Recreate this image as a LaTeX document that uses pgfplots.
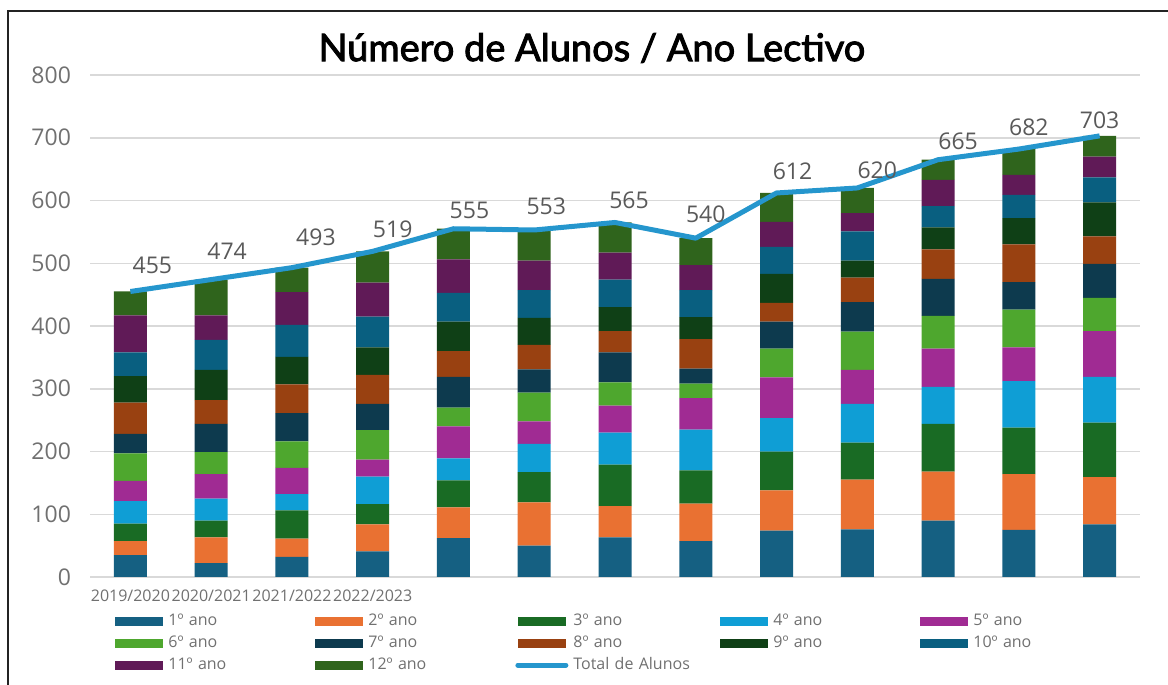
\documentclass[border=0pt]{standalone}
\usepackage{fontspec}
\setmainfont{Open Sans}
\newfontface\titlefont{Lato}[FakeBold=2.5]
\usepackage{pgfplots}
\usepackage{pgfplotstable}
\pgfplotsset{compat=1.18}
\pgfplotsset{/pgf/number format/assume math mode=true}

\definecolor{c1}{RGB}{21,96,130}
\definecolor{c2}{RGB}{233,113,50}
\definecolor{c3}{RGB}{25,107,36}
\definecolor{c4}{RGB}{15,158,213}
\definecolor{c5}{RGB}{160,43,147}
\definecolor{c6}{RGB}{78,167,46}
\definecolor{c7}{RGB}{13,58,78}
\definecolor{c8}{RGB}{153,65,17}
\definecolor{c9}{RGB}{15,64,22}
\definecolor{c10}{RGB}{9,95,128}
\definecolor{c11}{RGB}{96,26,87}
\definecolor{c12}{RGB}{47,100,28}
\definecolor{linec}{RGB}{37,150,205}
\definecolor{gridc}{RGB}{217,217,217}
\definecolor{tickc}{RGB}{112,112,112}
\definecolor{labelc}{RGB}{89,89,89}
\definecolor{framec}{RGB}{35,35,35}

\pgfplotsset{
  barlegend/.style={legend image code/.code={\fill[##1,draw=none] (0pt,-2.2pt) rectangle (24pt,2.2pt);}},
  linelegend/.style={legend image code/.code={\draw[##1,line cap=round] (0pt,0pt) -- (24pt,0pt);}},
}

\pgfplotstableread{
x a1 a2 a3 a4 a5 a6 a7 a8 a9 a10 a11 a12 t dx dy
0 35 22 28 36 32 44 31 50 42 38 59 38 455 11 13
1 22 41 27 35 39 35 45 38 48 48 39 57 474 8 14
2 32 29 45 26 42 42 45 46 44 51 52 39 493 12 15
3 41 43 32 44 27 47 42 46 44 49 54 50 519 10 11
4 62 49 43 35 51 30 49 41 47 46 53 49 555 8 9
5 50 69 48 45 36 46 37 39 43 44 47 49 553 6 12
6 63 50 66 51 43 37 48 34 38 44 43 48 565 7 11
7 57 60 53 65 50 23 24 47 35 43 40 43 540 5 12
8 74 64 62 53 65 46 43 30 46 43 40 46 612 8 11
9 76 79 59 62 54 61 47 39 27 47 29 40 620 10 9
10 90 78 76 59 61 52 59 47 35 34 42 32 665 10 9
11 75 89 74 74 54 60 44 60 42 37 32 41 682 5 11
12 84 75 87 73 73 53 54 44 54 40 33 33 703 0 8
}\data

\begin{document}
\begin{tikzpicture}
\useasboundingbox (0,0) rectangle (584pt,342.5pt);
\draw[line width=1pt, color=framec] (3.75pt,-1pt) -- (3.75pt,337pt) -- (585pt,337pt);
\begin{axis}[
  at={(45pt,54pt)}, anchor=south west,
  scale only axis, width=525pt, height=251pt,
  xmin=-0.5, xmax=12.5, ymin=0, ymax=800,
  ybar stacked, bar width=16.5pt,
  axis line style={draw=none},
  ytick={0,100,...,800},
  ymajorgrids, grid style={color=gridc, line width=0.75pt},
  xtick={0,1,2,3},
  xticklabels={2019/2020,2020/2021,2021/2022,2022/2023},
  major tick length=0pt,
  yticklabel style={font=\fontsize{11.5}{13}\selectfont, text=tickc, anchor=east, xshift=-6pt},
  xticklabel style={font=\fontsize{8}{9}\selectfont, text=tickc, yshift=-3pt},
  title={\titlefont Número de Alunos / Ano Lectivo},
  title style={at={(axis description cs:0.478,1.030)}, anchor=center, font=\fontsize{19}{22}\selectfont},
  legend columns=5,
  legend cell align=left,
  legend style={draw=none, fill=none, at={(axis description cs:0.0238,-0.0653)}, anchor=north west,
    inner sep=0pt, row sep=0pt,
    font=\fontsize{8}{9}\selectfont, text=tickc,
    nodes={text width=71pt, align=left, inner xsep=2.5pt, inner ysep=1.75pt, text height=6pt, text depth=1.5pt}},
]
\addplot[fill=c1, draw=none, barlegend] table[x=x,y=a1]{\data};
\addplot[fill=c2, draw=none, barlegend] table[x=x,y=a2]{\data};
\addplot[fill=c3, draw=none, barlegend] table[x=x,y=a3]{\data};
\addplot[fill=c4, draw=none, barlegend] table[x=x,y=a4]{\data};
\addplot[fill=c5, draw=none, barlegend] table[x=x,y=a5]{\data};
\addplot[fill=c6, draw=none, barlegend] table[x=x,y=a6]{\data};
\addplot[fill=c7, draw=none, barlegend] table[x=x,y=a7]{\data};
\addplot[fill=c8, draw=none, barlegend] table[x=x,y=a8]{\data};
\addplot[fill=c9, draw=none, barlegend] table[x=x,y=a9]{\data};
\addplot[fill=c10, draw=none, barlegend] table[x=x,y=a10]{\data};
\addplot[fill=c11, draw=none, barlegend] table[x=x,y=a11]{\data};
\addplot[fill=c12, draw=none, barlegend] table[x=x,y=a12]{\data};
\addlegendimage{color=linec, line width=2.5pt, linelegend}
\legend{1º ano,2º ano,3º ano,4º ano,5º ano,6º ano,7º ano,8º ano,9º ano,10º ano,11º ano,12º ano,Total de Alunos}
\end{axis}
\begin{axis}[
  at={(45pt,54pt)}, anchor=south west,
  scale only axis, width=525pt, height=251pt,
  xmin=-0.5, xmax=12.5, ymin=0, ymax=800,
  hide axis, clip=false,
]
\addplot[color=linec, line width=2.5pt, line join=round, mark=none,
  nodes near coords,
  visualization depends on={\thisrow{dx} \as \ldx},
  visualization depends on={\thisrow{dy} \as \ldy},
  every node near coord/.append style={font=\fontsize{11.5}{13}\selectfont, text=labelc, anchor=center, xshift=\ldx pt, yshift=\ldy pt}]
  table[x=x,y=t]{\data};
\end{axis}
\end{tikzpicture}
\end{document}
